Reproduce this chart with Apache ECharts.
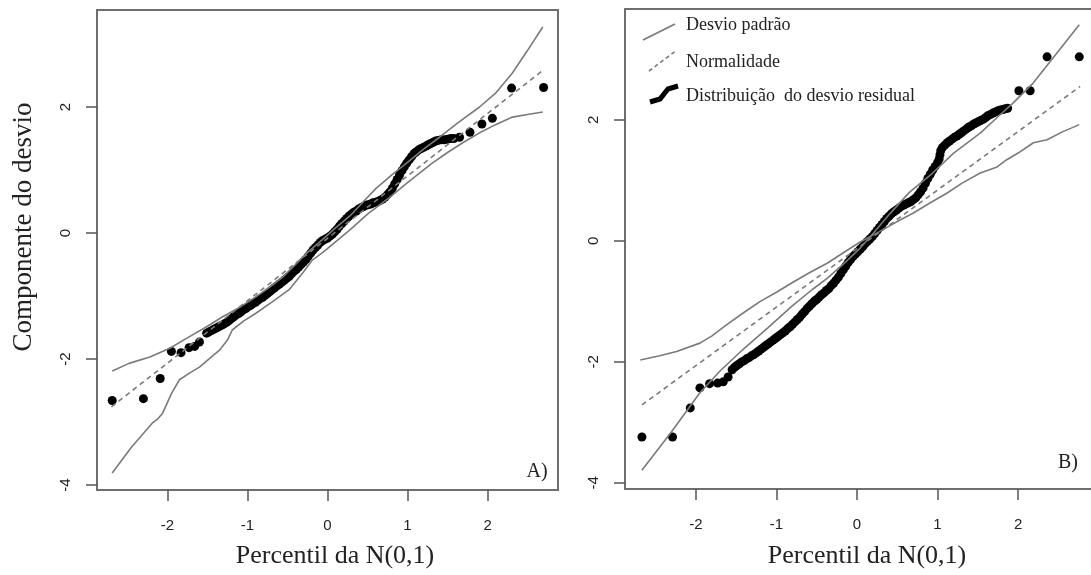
<!DOCTYPE html>
<html><head><meta charset="utf-8">
<script src="https://cdn.jsdelivr.net/npm/echarts@6/dist/echarts.min.js"></script>
<style>html,body{margin:0;padding:0;background:#fff}#c{width:1091px;height:575px}</style>
</head><body><div id="c"></div>
<script>
const xTicks = [-2, -1, 0, 1, 2];
const yTicks = [-4, -2, 0, 2];
const xTitle = 'Percentil da N(0,1)';
const yTitle = 'Componente do desvio';
const legendNames = ['Desvio padrão', 'Normalidade', 'Distribuição  do desvio residual'];

// Panel A
const pointsA = [[-2.69,-2.66],[-2.30,-2.63],[-2.09,-2.31],[-1.95,-1.88],[-1.83,-1.90],[-1.73,-1.82],[-1.66,-1.80],[-1.60,-1.73],
[-1.51,-1.59],[-1.48,-1.57],[-1.45,-1.55],[-1.42,-1.53],[-1.39,-1.51],[-1.36,-1.49],[-1.33,-1.47],[-1.30,-1.45],[-1.26,-1.42],
[-1.23,-1.39],[-1.20,-1.36],[-1.17,-1.33],[-1.14,-1.30],[-1.11,-1.28],[-1.08,-1.25],[-1.05,-1.22],[-1.02,-1.20],[-0.99,-1.17],
[-0.96,-1.15],[-0.93,-1.12],[-0.90,-1.10],[-0.87,-1.07],[-0.84,-1.04],[-0.81,-1.02],[-0.78,-0.99],[-0.75,-0.96],[-0.72,-0.93],
[-0.69,-0.90],[-0.66,-0.87],[-0.63,-0.84],[-0.60,-0.81],[-0.57,-0.78],[-0.54,-0.75],[-0.51,-0.72],[-0.48,-0.69],[-0.45,-0.65],
[-0.42,-0.61],[-0.39,-0.58],[-0.36,-0.54],[-0.33,-0.50],[-0.30,-0.46],[-0.27,-0.42],[-0.24,-0.37],[-0.21,-0.32],[-0.18,-0.27],
[-0.15,-0.23],[-0.12,-0.19],[-0.09,-0.15],[-0.06,-0.12],[-0.03,-0.10],[0.00,-0.08],[0.03,-0.05],[0.06,-0.02],[0.09,0.02],
[0.12,0.06],[0.15,0.11],[0.18,0.15],[0.21,0.19],[0.24,0.23],[0.27,0.27],[0.30,0.30],[0.33,0.33],[0.36,0.35],[0.39,0.38],
[0.42,0.40],[0.45,0.42],[0.48,0.44],[0.51,0.45],[0.54,0.46],[0.57,0.48],[0.60,0.49],[0.63,0.50],[0.66,0.52],[0.69,0.54],
[0.72,0.57],[0.75,0.61],[0.78,0.65],[0.81,0.71],[0.84,0.78],[0.87,0.85],[0.90,0.92],[0.93,0.99],[0.96,1.05],[0.99,1.11],
[1.02,1.16],[1.05,1.21],[1.08,1.26],[1.11,1.29],[1.14,1.32],[1.17,1.34],[1.20,1.36],[1.23,1.38],[1.26,1.40],[1.29,1.42],
[1.32,1.44],[1.35,1.46],[1.38,1.47],[1.42,1.48],[1.46,1.48],[1.50,1.49],[1.54,1.50],[1.58,1.50],[1.65,1.52],
[1.78,1.60],[1.93,1.73],[2.06,1.82],[2.30,2.30],[2.70,2.31]];
const upperA = [[-2.69,-2.19],[-2.48,-2.07],[-2.22,-1.97],[-1.97,-1.83],[-1.73,-1.65],[-1.50,-1.48],[-1.31,-1.33],[-1.10,-1.18],
[-0.89,-1.01],[-0.70,-0.84],[-0.56,-0.70],[-0.40,-0.50],[-0.26,-0.32],[-0.06,-0.10],[0.10,0.08],[0.28,0.27],[0.45,0.50],
[0.60,0.70],[0.80,0.92],[1.00,1.12],[1.20,1.33],[1.40,1.52],[1.62,1.74],[1.90,2.00],[2.10,2.22],[2.31,2.54],[2.50,2.90],[2.69,3.27]];
const lowerA = [[-2.69,-3.81],[-2.45,-3.40],[-2.19,-3.02],[-2.12,-2.95],[-2.06,-2.86],[-1.95,-2.55],[-1.85,-2.33],[-1.72,-2.22],
[-1.60,-2.13],[-1.35,-1.86],[-1.25,-1.70],[-1.19,-1.54],[-1.05,-1.40],[-0.89,-1.27],[-0.70,-1.10],[-0.48,-0.90],[-0.30,-0.62],
[-0.19,-0.43],[-0.05,-0.30],[0.10,-0.14],[0.28,0.05],[0.50,0.30],[0.78,0.57],[1.00,0.80],[1.15,0.95],[1.30,1.10],[1.49,1.27],
[1.70,1.44],[1.90,1.59],[2.10,1.72],[2.31,1.84],[2.50,1.88],[2.69,1.92]];
const normA = [[-2.70,-2.76],[2.70,2.59]];

// Panel B
const pointsB = [[-2.67,-3.24],[-2.29,-3.24],[-2.07,-2.76],[-1.95,-2.43],[-1.83,-2.36],[-1.73,-2.35],[-1.66,-2.33],[-1.60,-2.25],
[-1.55,-2.13],[-1.52,-2.09],[-1.49,-2.06],[-1.46,-2.03],[-1.43,-2.00],[-1.40,-1.98],[-1.37,-1.95],[-1.34,-1.93],[-1.31,-1.90],
[-1.28,-1.88],[-1.25,-1.85],[-1.22,-1.82],[-1.19,-1.79],[-1.16,-1.76],[-1.13,-1.73],[-1.10,-1.70],[-1.07,-1.67],[-1.04,-1.64],
[-1.01,-1.61],[-0.98,-1.58],[-0.95,-1.55],[-0.92,-1.52],[-0.89,-1.49],[-0.86,-1.45],[-0.83,-1.42],[-0.80,-1.38],[-0.77,-1.34],
[-0.74,-1.30],[-0.71,-1.26],[-0.68,-1.21],[-0.65,-1.17],[-0.62,-1.12],[-0.59,-1.08],[-0.56,-1.04],[-0.53,-1.00],[-0.50,-0.97],
[-0.47,-0.93],[-0.44,-0.89],[-0.41,-0.86],[-0.38,-0.82],[-0.35,-0.79],[-0.32,-0.74],[-0.29,-0.70],[-0.26,-0.65],[-0.23,-0.60],
[-0.20,-0.54],[-0.17,-0.48],[-0.14,-0.42],[-0.11,-0.36],[-0.08,-0.31],[-0.05,-0.26],[-0.02,-0.22],[0.01,-0.18],[0.04,-0.14],
[0.07,-0.10],[0.10,-0.05],[0.13,-0.01],[0.16,0.03],[0.19,0.07],[0.22,0.12],[0.25,0.17],[0.28,0.22],[0.31,0.27],[0.34,0.32],
[0.37,0.37],[0.40,0.41],[0.43,0.45],[0.46,0.48],[0.49,0.51],[0.52,0.54],[0.55,0.57],[0.58,0.59],[0.61,0.61],[0.64,0.63],
[0.67,0.65],[0.70,0.68],[0.73,0.71],[0.76,0.76],[0.79,0.81],[0.82,0.87],[0.85,0.95],[0.88,1.03],[0.91,1.10],[0.94,1.17],
[0.97,1.23],[1.00,1.29],[1.02,1.35],[1.03,1.42],[1.04,1.49],[1.06,1.54],[1.09,1.58],[1.12,1.62],[1.15,1.65],[1.18,1.68],
[1.21,1.71],[1.24,1.73],[1.27,1.76],[1.30,1.79],[1.33,1.82],[1.36,1.85],[1.39,1.88],[1.42,1.90],[1.45,1.93],[1.48,1.95],
[1.51,1.97],[1.54,1.99],[1.57,2.01],[1.60,2.04],[1.63,2.07],[1.66,2.09],[1.69,2.11],[1.72,2.13],[1.75,2.15],[1.78,2.16],
[1.81,2.17],[1.84,2.18],[1.87,2.19],[2.01,2.48],[2.15,2.48],[2.36,3.04],[2.76,3.04]];
const line1B = [[-2.69,-1.97],[-2.45,-1.90],[-2.24,-1.83],[-1.95,-1.69],[-1.80,-1.57],[-1.62,-1.39],[-1.40,-1.18],[-1.20,-1.00],
[-1.00,-0.85],[-0.79,-0.68],[-0.58,-0.52],[-0.37,-0.37],[-0.15,-0.18],[0.04,-0.02],[0.29,0.16],[0.50,0.32],[0.70,0.46],
[0.90,0.62],[1.12,0.79],[1.30,0.95],[1.53,1.12],[1.74,1.22],[1.86,1.34],[2.00,1.45],[2.19,1.62],[2.36,1.67],[2.55,1.80],[2.76,1.92]];
const line2B = [[-2.67,-3.79],[-2.30,-3.15],[-1.95,-2.51],[-1.70,-2.15],[-1.42,-1.80],[-1.10,-1.43],[-0.80,-1.07],[-0.55,-0.80],
[-0.37,-0.62],[-0.15,-0.36],[0.04,-0.12],[0.20,0.12],[0.41,0.45],[0.65,0.80],[0.94,1.12],[1.20,1.45],[1.53,1.78],[1.75,2.05],
[1.94,2.28],[2.19,2.61],[2.48,3.10],[2.76,3.57]];
const normB = [[-2.67,-2.71],[2.77,2.55]];

const serif = '"Liberation Serif", "DejaVu Serif", serif';
const sans = '"Liberation Sans", Arial, sans-serif';
const envColor = '#7a7a7a';
const boxLine = { show: true, onZero: false, lineStyle: { color: '#6e6e6e', width: 2 } };

function xAxis(i, min, max, withLine) {
  return {
    type: 'value', gridIndex: i, min: min, max: max, position: 'bottom',
    axisLine: withLine ? boxLine : { show: false, onZero: false }, splitLine: { show: false },
    axisTick: { show: true, length: 11, inside: false, customValues: xTicks, lineStyle: { color: '#555', width: 1.5 } },
    axisLabel: { customValues: xTicks, margin: 28, fontFamily: sans, fontSize: 15, color: '#222', formatter: v => String(v) }
  };
}
function yAxis(i, min, max, withLine) {
  return {
    type: 'value', gridIndex: i, min: min, max: max, position: 'left',
    axisLine: withLine ? boxLine : { show: false, onZero: false }, splitLine: { show: false },
    axisTick: { show: true, length: 11, inside: false, customValues: yTicks, lineStyle: { color: '#555', width: 1.5 } },
    axisLabel: { customValues: yTicks, rotate: 90, margin: 24, fontFamily: sans, fontSize: 15, color: '#222', formatter: v => String(v) }
  };
}
function pts(data, i) {
  return { type: 'scatter', xAxisIndex: i, yAxisIndex: i, data: data, symbol: 'circle', symbolSize: 9,
    itemStyle: { color: '#000', opacity: 1 }, z: 2, silent: true };
}
function ln(data, i, dashed) {
  return { type: 'line', xAxisIndex: i, yAxisIndex: i, data: data, showSymbol: false, symbol: 'none', z: 3, silent: true,
    lineStyle: { color: envColor, width: 1.6, type: dashed ? [5, 4] : 'solid' } };
}

const chart = echarts.init(document.getElementById('c'), null, { renderer: 'canvas' });
chart.setOption({
  animation: false,
  backgroundColor: '#fff',
  grid: [
    { left: 97, top: 10, width: 461, height: 480, show: true, borderColor: '#6e6e6e', borderWidth: 2, backgroundColor: 'transparent', outerBoundsMode: 'none', containLabel: false },
    { left: 625, top: 9, width: 472, height: 480, show: false, outerBoundsMode: 'none', containLabel: false }
  ],
  xAxis: [
    xAxis(0, -2.88, 2.88, false),
    xAxis(1, -2.88, 2.98, true),
    { type: 'value', gridIndex: 1, min: -2.88, max: 2.98, position: 'top', axisLine: boxLine,
      axisTick: { show: false }, axisLabel: { show: false }, splitLine: { show: false } }
  ],
  yAxis: [yAxis(0, -4.08, 3.54, false), yAxis(1, -4.1, 3.83, true)],
  series: [
    pts(pointsA, 0), ln(upperA, 0, false), ln(lowerA, 0, false), ln(normA, 0, true),
    pts(pointsB, 1), ln(line1B, 1, false), ln(line2B, 1, false), ln(normB, 1, true)
  ],
  graphic: [
    { type: 'text', x: 24, y: 227, rotation: Math.PI / 2, style: { text: yTitle, font: '27px ' + serif, fill: '#222', textAlign: 'center', textVerticalAlign: 'middle' } },
    { type: 'text', x: 335, y: 556, style: { text: xTitle, font: '26px ' + serif, fill: '#222', textAlign: 'center', textVerticalAlign: 'middle' } },
    { type: 'text', x: 867, y: 556, style: { text: xTitle, font: '26px ' + serif, fill: '#222', textAlign: 'center', textVerticalAlign: 'middle' } },
    { type: 'text', x: 537, y: 472, style: { text: 'A)', font: '20px ' + serif, fill: '#222', textAlign: 'center', textVerticalAlign: 'middle' } },
    { type: 'text', x: 1068, y: 463, style: { text: 'B)', font: '20px ' + serif, fill: '#222', textAlign: 'center', textVerticalAlign: 'middle' } },
    { type: 'line', shape: { x1: 643, y1: 40, x2: 675, y2: 24 }, style: { stroke: envColor, lineWidth: 1.6 } },
    { type: 'line', shape: { x1: 649, y1: 71, x2: 677, y2: 50 }, style: { stroke: envColor, lineWidth: 1.6, lineDash: [4, 3] } },
    { type: 'polyline', shape: { points: [[650, 102], [660, 99], [668, 89], [678, 86]] }, style: { stroke: '#000', lineWidth: 5, fill: null } },
    { type: 'text', x: 686, y: 25, style: { text: legendNames[0], font: '18px ' + serif, fill: '#222', textVerticalAlign: 'middle' } },
    { type: 'text', x: 686, y: 62, style: { text: legendNames[1], font: '18px ' + serif, fill: '#222', textVerticalAlign: 'middle' } },
    { type: 'text', x: 686, y: 96, style: { text: legendNames[2], font: '18px ' + serif, fill: '#222', textVerticalAlign: 'middle' } }
  ]
});
</script>
</body></html>
